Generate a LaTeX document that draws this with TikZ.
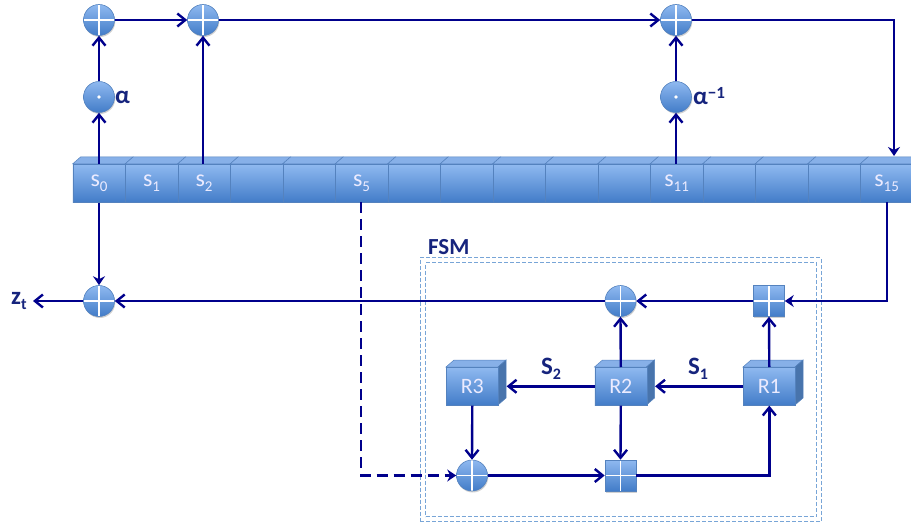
\documentclass[tikz,border=0pt]{standalone}
\usepackage{fontspec}
\setmainfont{Carlito}
\usetikzlibrary{arrows.meta,calc,shadows}
\definecolor{navyl}{RGB}{0,0,140}
\definecolor{navyt}{RGB}{22,36,125}
\definecolor{blt}{RGB}{143,185,240}
\definecolor{blb}{RGB}{66,124,200}
\definecolor{bltop}{RGB}{135,176,232}
\definecolor{blside}{RGB}{72,116,172}
\definecolor{bledge}{RGB}{84,130,190}
\definecolor{fsmc}{RGB}{120,165,215}
\tikzset{
  blueshade/.style={top color=blt,bottom color=blb,draw=bledge,line width=0.6pt},
  softshadow/.style={drop shadow={shadow xshift=0.8pt,shadow yshift=-1.5pt,opacity=0.3,fill=black!60}},
  cellbox/.style={blueshade,rectangle,minimum width=52.5pt,minimum height=38pt,inner sep=0pt,text=white!92!blue,font=\fontsize{24}{24}\selectfont},
  regbox/.style={blueshade,rectangle,minimum width=52pt,minimum height=38pt,inner sep=0pt,text=white!92!blue,font=\fontsize{22}{22}\selectfont},
  xorc/.style={blueshade,softshadow,circle,minimum size=31pt,inner sep=0pt,
    path picture={\draw[white,line width=1.3pt] (path picture bounding box.north)--(path picture bounding box.south) (path picture bounding box.west)--(path picture bounding box.east);}},
  addsq/.style={blueshade,softshadow,rectangle,minimum size=31pt,inner sep=0pt,
    path picture={\draw[white,line width=1.3pt] (path picture bounding box.north)--(path picture bounding box.south) (path picture bounding box.west)--(path picture bounding box.east);}},
  mulc/.style={blueshade,softshadow,circle,minimum size=31pt,inner sep=0pt,
    path picture={\fill[white] (path picture bounding box.center) circle (1.8pt);}},
  conn/.style={draw=navyl,line width=2.4pt,-{Straight Barb[length=8pt,width=13pt,line width=2.4pt]}},
  connf/.style={draw=navyl,line width=2.4pt,-{Stealth[length=9pt,width=12pt]}},
  lbl/.style={text=navyt,font=\fontsize{25}{25}\selectfont\bfseries,inner sep=0pt},
  fsmline/.style={draw=fsmc,line width=1.1pt,dash pattern=on 4pt off 2pt}
}
\newcommand{\regsub}[1]{\raisebox{-5pt}{\fontsize{15}{15}\selectfont #1}}
\newcommand{\lblsub}[1]{\raisebox{-5pt}{\fontsize{16}{16}\selectfont\bfseries #1}}
\newcommand{\regcell}[3]{%
  \fill[bltop,draw=bledge,line width=0.5pt] (#2,164)--(#2+8,157)--(#2+60.5,157)--(#2+52.5,164)--cycle;
  \node[cellbox,anchor=north west] (#1) at (#2,164) {#3};}
\newcommand{\regblock}[3]{%
  \fill[bltop,draw=bledge,line width=0.5pt] (#2,367)--(#2+8,360)--(#2+60,360)--(#2+52,367)--cycle;
  \fill[blside,draw=bledge,line width=0.5pt] (#2+52,367)--(#2+60,360)--(#2+60,398)--(#2+52,405)--cycle;
  \node[regbox,anchor=north west] (#1) at (#2,367) {#3};}
\begin{document}
\begin{tikzpicture}[x=1pt,y=-1pt]
\useasboundingbox (0,0) rectangle (911,524);
% FSM frame
\node[fsmline,rectangle,minimum width=401pt,minimum height=264pt,inner sep=0pt,anchor=north west] (fsmo) at (419.5,257) {};
\node[fsmline,rectangle,minimum width=391pt,minimum height=254pt,inner sep=0pt,anchor=north west] (fsmi) at (425,262) {};
\node[lbl,anchor=west,font=\fontsize{23}{23}\selectfont\bfseries] (fsmlab) at (428,247) {FSM};
% register
\regcell{c0}{72.5}{s\regsub{0}}
\regcell{c1}{125}{s\regsub{1}}
\regcell{c2}{177.5}{s\regsub{2}}
\regcell{c3}{230}{}
\regcell{c4}{282.5}{}
\regcell{c5}{335}{s\regsub{5}}
\regcell{c6}{387.5}{}
\regcell{c7}{440}{}
\regcell{c8}{492.5}{}
\regcell{c9}{545}{}
\regcell{c10}{597.5}{}
\regcell{c11}{650}{s\regsub{11}}
\regcell{c12}{702.5}{}
\regcell{c13}{755}{}
\regcell{c14}{807.5}{}
\regcell{c15}{860}{s\regsub{15}}
% operators
\node[xorc] (x0) at (99,20) {};
\node[xorc] (x2) at (203,20) {};
\node[xorc] (x11) at (676,20) {};
\node[mulc] (m0) at (99,97) {};
\node[mulc] (m11) at (676,97) {};
\node[xorc] (xz) at (99,301) {};
\node[xorc] (xf) at (620.5,301) {};
\node[addsq] (a1) at (769,301) {};
\node[xorc] (x5) at (472,475.5) {};
\node[addsq] (a2) at (620.5,475.5) {};
% R blocks
\regblock{r3}{446}{R3}
\regblock{r2}{594.5}{R2}
\regblock{r1}{743}{R1}
% labels
\node[lbl,anchor=west] (la) at (115,97) {α};
\node[lbl,anchor=west] (lai) at (693,96) {α\raisebox{6pt}{\fontsize{17}{17}\selectfont\bfseries −1}};
\node[lbl,anchor=west] (lz) at (11,301) {z\lblsub{t}};
\node[lbl] (ls2) at (551,369) {S\lblsub{2}};
\node[lbl] (ls1) at (698,369) {S\lblsub{1}};
% connectors
\coordinate (tin) at (894,156);
\coordinate (c15o) at (887,202);
\coordinate (c5o) at (361,202);
\coordinate (zend) at (33,301);
\coordinate (r2s) at ($(r2.east)+(8,0)$);
\coordinate (r3s) at ($(r3.east)+(8,0)$);
\draw[conn] (c0.north -| m0) -- (m0.south);
\draw[conn] (m0.north) -- (x0.south);
\draw[conn] (x0.east) -- (x2.west);
\draw[conn] (x2.east) -- (x11.west);
\draw[conn] (c2.north -| x2) -- (x2.south);
\draw[conn] (c11.north -| m11) -- (m11.south);
\draw[conn] (m11.north) -- (x11.south);
\draw[connf] (x11.east) -| (tin);
\draw[connf] (c0.south -| m0) -- (xz.north);
\draw[connf] (c15o) |- (a1.east);
\draw[conn] (a1.west) -- (xf.east);
\draw[conn] (xf.west) -- (xz.east);
\draw[conn] (xz.west) -- (zend);
\draw[conn] (r1.north) -- (a1.south);
\draw[conn] (r2.north) -- (xf.south);
\draw[conn] (r1.west) -- (r2s);
\draw[conn] (r2.west) -- (r3s);
\draw[conn] (r3.south) -- (x5.north);
\draw[conn] (r2.south) -- (a2.north);
\draw[conn] (x5.east) -- (a2.west);
\draw[conn] (a2.east) -| (r1.south);
\draw[draw=navyl,line width=2.4pt,dash pattern=on 11pt off 6pt,-{Stealth[length=9pt,width=12pt]}] (c5o) |- (x5.west);
\end{tikzpicture}
\end{document}
